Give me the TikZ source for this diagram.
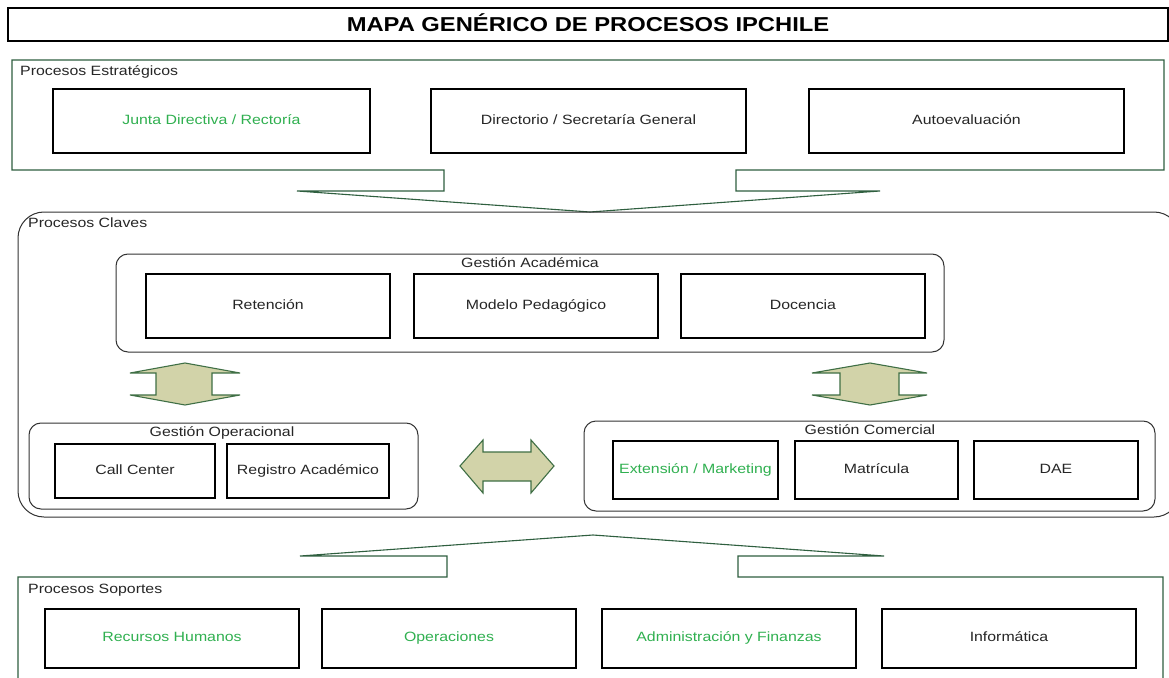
\documentclass[tikz,border=0pt]{standalone}
\usepackage{fontspec}
\setmainfont{Liberation Sans}[FakeStretch=1.18]
\definecolor{gline}{HTML}{2F5F3F}
\definecolor{gtext}{HTML}{30B050}
\definecolor{afill}{HTML}{D2D3A9}
\definecolor{aline}{HTML}{3F6F45}
\definecolor{gray3}{HTML}{333333}
\tikzset{
  pbox/.style={draw=black, line width=1.1bp, inner sep=0pt, text height=9.7bp, text depth=2.8bp,
               font=\fontsize{13.5}{15}\selectfont, text=black!85},
  grp/.style={draw=gray3, line width=1bp, rounded corners=12bp},
  grplabel/.style={inner sep=0pt, text height=9.7bp, text depth=2.8bp, font=\fontsize{13.5}{15}\selectfont, text=black!85},
  greenshape/.style={draw=gline, line width=1.1bp},
  dblarrow/.style={draw=aline, fill=afill, line width=1.1bp, line join=miter},
  gtxt/.style={text=gtext}
}
\begin{document}
\begin{tikzpicture}[x=1bp,y=-1bp]
\useasboundingbox (0,0) rectangle (1169,678);
\fill[white] (0,0) rectangle (1169,678);

% Title
\node[draw=black, line width=1.1bp, minimum width=1160bp, minimum height=33bp, inner sep=0pt,
      text height=14.5bp, text depth=0bp,
      font=\fontsize{20.2}{22}\selectfont\bfseries] (title) at (588,24.5) {MAPA GENÉRICO DE PROCESOS IPCHILE};

% Strategic processes shape with down arrow
\draw[greenshape] (12,60) -- (1164,60) -- (1164,170) -- (736,170) -- (736,191) -- (880,191)
   -- (590,212) -- (297,191) -- (444,191) -- (444,170) -- (12,170) -- cycle;
\node[grplabel, anchor=west] (lblest) at (20,72) {Procesos Estratégicos};
\node[pbox, gtxt, minimum width=317bp, minimum height=64bp] (junta) at (211.5,121) {Junta Directiva / Rectoría};
\node[pbox, minimum width=315bp, minimum height=64bp] (direc) at (588.5,121) {Directorio / Secretaría General};
\node[pbox, minimum width=315bp, minimum height=64bp] (autoev) at (966.5,121) {Autoevaluación};

% Key processes
\draw[draw=gray3, line width=1bp, rounded corners=26bp] (18,212) rectangle (1180,517);
\node[grplabel, anchor=west] (lblclaves) at (28,224) {Procesos Claves};

% Gestion Academica
\draw[grp] (116,254) rectangle (944,352);
\node[grplabel] (lblacad) at (530,264) {Gestión Académica};
\node[pbox, minimum width=244bp, minimum height=64bp] (reten) at (268,306) {Retención};
\node[pbox, minimum width=244bp, minimum height=64bp] (modelo) at (536,306) {Modelo Pedagógico};
\node[pbox, minimum width=244bp, minimum height=64bp] (docen) at (803,306) {Docencia};

% Vertical double arrows
\draw[dblarrow] (185,363) -- (240,373) -- (212,373) -- (212,395) -- (240,395) -- (185,405)
   -- (130,395) -- (156,395) -- (156,373) -- (130,373) -- cycle;
\draw[dblarrow] (870,363) -- (927,373) -- (899,373) -- (899,395) -- (927,395) -- (870,405)
   -- (812,395) -- (840,395) -- (840,373) -- (812,373) -- cycle;

% Gestion Operacional
\draw[grp] (29,423) rectangle (418,509);
\node[grplabel] (lbloper) at (222,433) {Gestión Operacional};
\node[pbox, minimum width=160bp, minimum height=54bp] (callc) at (135,471) {Call Center};
\node[pbox, minimum width=162bp, minimum height=54bp] (regis) at (308,471) {Registro Académico};

% Horizontal double arrow
\draw[dblarrow] (460,466) -- (483,440) -- (483,452) -- (531,452) -- (531,440) -- (554,466)
   -- (531,493) -- (531,481) -- (483,481) -- (483,493) -- cycle;

% Gestion Comercial
\draw[grp] (584,421) rectangle (1155,511);
\node[grplabel] (lblcom) at (870,431) {Gestión Comercial};
\node[pbox, gtxt, minimum width=165bp, minimum height=58bp] (exten) at (695.5,470) {Extensión / Marketing};
\node[pbox, minimum width=163bp, minimum height=58bp] (matri) at (876.5,470) {Matrícula};
\node[pbox, minimum width=164bp, minimum height=58bp] (dae) at (1056,470) {DAE};

% Support processes shape with up arrow
\draw[greenshape] (447,577) -- (18,577) -- (18,700) -- (1163,700) -- (1163,577) -- (738,577)
   -- (738,556) -- (884,556) -- (593,535) -- (300,556) -- (447,556) -- cycle;
\node[grplabel, anchor=west] (lblsop) at (28,590) {Procesos Soportes};
\node[pbox, gtxt, minimum width=254bp, minimum height=59bp] (rrhh) at (172,638.5) {Recursos Humanos};
\node[pbox, gtxt, minimum width=254bp, minimum height=59bp] (opera) at (449,638.5) {Operaciones};
\node[pbox, gtxt, minimum width=254bp, minimum height=59bp] (admin) at (729,638.5) {Administración y Finanzas};
\node[pbox, minimum width=254bp, minimum height=59bp] (infor) at (1009,638.5) {Informática};
\end{tikzpicture}
\end{document}
